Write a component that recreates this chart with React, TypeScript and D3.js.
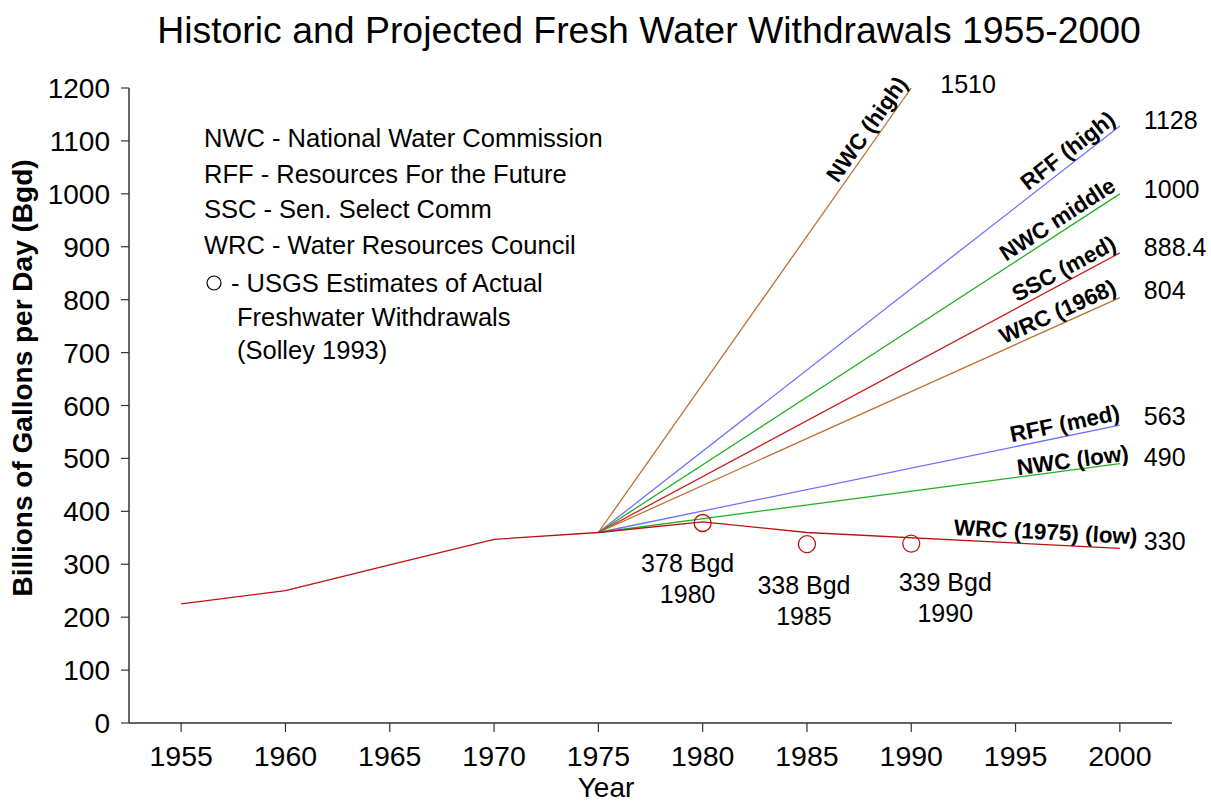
import React from "react";
import * as d3 from "d3";

// ---------- DATA ----------
const historicYears = [1955, 1960, 1965, 1970, 1975];
const historicValues = [225, 250, 299, 347, 360];

const projectionNames = [
  "NWC (high)",
  "RFF (high)",
  "NWC middle",
  "SSC (med)",
  "WRC (1968)",
  "RFF (med)",
  "NWC (low)",
  "WRC (1975) (low)",
];
const projectionYears = [
  [1975, 1990],
  [1975, 2000],
  [1975, 2000],
  [1975, 2000],
  [1975, 2000],
  [1975, 2000],
  [1975, 2000],
  [1975, 1980, 1985, 2000],
];
const projectionValues = [
  [360, 1200],
  [360, 1128],
  [360, 1000],
  [360, 888.4],
  [360, 804],
  [360, 563],
  [360, 490],
  [360, 380, 360, 330],
];
const projectionEndLabels = ["1510", "1128", "1000", "888.4", "804", "563", "490", "330"];

const usgsYears = [1980, 1985, 1990];
const usgsValues = [378, 338, 339];
const usgsLabels = ["378 Bgd", "338 Bgd", "339 Bgd"];

const xTicks = [1955, 1960, 1965, 1970, 1975, 1980, 1985, 1990, 1995, 2000];
const yTicks = [0, 100, 200, 300, 400, 500, 600, 700, 800, 900, 1000, 1100, 1200];

const legendLines = [
  "NWC - National Water Commission",
  "RFF - Resources For the Future",
  "SSC - Sen. Select Comm",
  "WRC - Water Resources Council",
];
const legendCircleLines = [
  "- USGS Estimates of Actual",
  "Freshwater Withdrawals",
  "(Solley 1993)",
];

const title = "Historic and Projected Fresh Water Withdrawals 1955-2000";

// ---------- STYLE ----------
const BROWN = "#c07030";
const BLUE = "#7070ff";
const GREEN = "#22b022";
const RED = "#c82020";
const DARKRED = "#bb1111";
const projectionColors = [BROWN, BLUE, GREEN, RED, BROWN, BLUE, GREEN, DARKRED];
// label offsets in the rotated frame (along, perpendicular)
const labelOffsets = [
  [2, -5],
  [0, -5],
  [0, -5],
  [0, -5],
  [0, -5],
  [2, -5],
  [10, -2],
  [17, -5],
];
// end-value label offsets (screen)
const endLabelOffsets = [
  [29, -2],
  [24, -4],
  [24, -2],
  [24, -3],
  [24, -5],
  [24, -7],
  [24, -4],
  [24, -5],
];
// USGS label offsets (dx, baseline dy of first line)
const usgsLabelOffsets = [
  [-15, 49],
  [-3, 50],
  [34, 47],
];

const FONT = "Arial, 'Liberation Sans', Helvetica, sans-serif";

export default function App() {
  const width = 1211;
  const height = 804;
  const x = d3.scaleLinear().domain([1952.5, 2002.5]).range([129, 1172]);
  const y = d3.scaleLinear().domain([0, 1200]).range([723, 88]);

  const line = d3
    .line<[number, number]>()
    .x((d) => x(d[0]))
    .y((d) => y(d[1]));

  const historicPts = historicYears.map((yr, i) => [yr, historicValues[i]] as [number, number]);

  return (
    <svg
      width={width}
      height={height}
      style={{ position: "absolute", left: 0, top: 0, background: "#fff" }}
      fontFamily={FONT}
    >
      <rect x={0} y={0} width={width} height={height} fill="#fff" />
      {/* Title */}
      <text x={649} y={43} fontSize={37.4} textAnchor="middle" fill="#000">
        {title}
      </text>

      {/* Axes */}
      <line x1={x.range()[0]} x2={x.range()[0]} y1={y(1200)} y2={y(0)} stroke="#333" strokeWidth={1.5} />
      <line x1={x.range()[0]} x2={x.range()[1]} y1={y(0)} y2={y(0)} stroke="#333" strokeWidth={1.5} />
      {yTicks.map((t) => (
        <g key={"y" + t}>
          <line x1={x.range()[0] - 8} x2={x.range()[0]} y1={y(t)} y2={y(t)} stroke="#333" strokeWidth={1.2} />
          <text x={110} y={y(t) + 10} fontSize={28} textAnchor="end" fill="#000">
            {t}
          </text>
        </g>
      ))}
      {xTicks.map((t) => (
        <g key={"x" + t}>
          <line x1={x(t)} x2={x(t)} y1={y(0)} y2={y(0) + 9} stroke="#333" strokeWidth={1.2} />
          <text x={x(t)} y={766} fontSize={28.5} textAnchor="middle" fill="#000">
            {t}
          </text>
        </g>
      ))}
      <text x={606} y={797} fontSize={28} textAnchor="middle" fill="#000">
        Year
      </text>
      <text
        transform={`translate(32,378) rotate(-90)`}
        fontSize={28}
        fontWeight="bold"
        textAnchor="middle"
        fill="#000"
      >
        Billions of Gallons per Day (Bgd)
      </text>

      {/* Legend */}
      {legendLines.map((s, i) => (
        <text key={s} x={204} y={147 + i * 35.7} fontSize={25.5} fill="#000">
          {s}
        </text>
      ))}
      <circle cx={214} cy={283} r={7} fill="none" stroke="#000" strokeWidth={1.2} />
      {legendCircleLines.map((s, i) => (
        <text key={s} x={i === 0 ? 231 : 237} y={292 + i * 33.5} fontSize={25.5} fill="#000">
          {s}
        </text>
      ))}

      {/* Historic */}
      <path d={line(historicPts) || ""} fill="none" stroke={DARKRED} strokeWidth={1.3} />

      {/* Projections */}
      {projectionNames.map((name, i) => {
        const pts = projectionYears[i].map((yr, j) => [yr, projectionValues[i][j]] as [number, number]);
        const n = pts.length;
        const p0 = pts[n - 2];
        const p1 = pts[n - 1];
        const ex = x(p1[0]);
        const ey = y(p1[1]);
        const ang = (Math.atan2(ey - y(p0[1]), ex - x(p0[0])) * 180) / Math.PI;
        return (
          <g key={name}>
            <path d={line(pts) || ""} fill="none" stroke={projectionColors[i]} strokeWidth={1.3} />
            <text
              transform={`translate(${ex},${ey}) rotate(${ang})`}
              x={labelOffsets[i][0]}
              y={labelOffsets[i][1]}
              fontSize={22.5}
              fontWeight="bold"
              textAnchor="end"
              fill="#000"
            >
              {name}
            </text>
            <text
              x={ex + endLabelOffsets[i][0]}
              y={ey + endLabelOffsets[i][1]}
              fontSize={25}
              dominantBaseline="middle"
              fill="#000"
            >
              {projectionEndLabels[i]}
            </text>
          </g>
        );
      })}

      {/* USGS estimates */}
      {usgsYears.map((yr, i) => (
        <g key={"u" + yr}>
          <circle cx={x(yr)} cy={y(usgsValues[i])} r={8.5} fill="none" stroke={DARKRED} strokeWidth={1.3} />
          <text
            x={x(yr) + usgsLabelOffsets[i][0]}
            y={y(usgsValues[i]) + usgsLabelOffsets[i][1]}
            fontSize={25}
            textAnchor="middle"
            fill="#000"
          >
            <tspan x={x(yr) + usgsLabelOffsets[i][0]}>{usgsLabels[i]}</tspan>
            <tspan x={x(yr) + usgsLabelOffsets[i][0]} dy={31}>
              {yr}
            </tspan>
          </text>
        </g>
      ))}
    </svg>
  );
}
